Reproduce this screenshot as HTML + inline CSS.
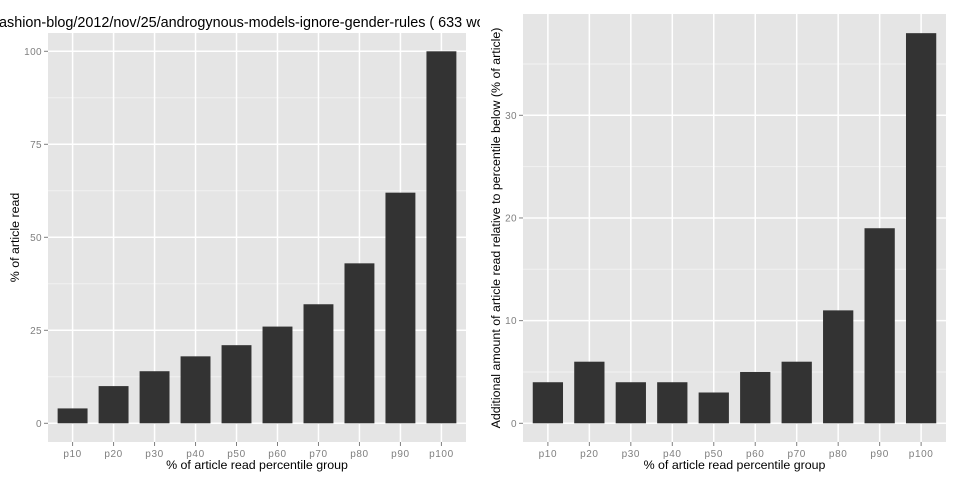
<!DOCTYPE html>
<html><head><meta charset="utf-8"><style>
html,body{margin:0;padding:0;background:#fff;}
svg{display:block;font-family:"Liberation Sans",sans-serif;}
</style></head><body>
<svg id="c" width="960" height="480">
<svg x="0" y="0" width="480" height="480">
<g id="L"></g>
<text x="-5" y="27" font-size="14.4" fill="#000">fashion-blog/2012/nov/25/androgynous-models-ignore-gender-rules ( 633 words)</text>
</svg>
<g id="R"></g>
</svg>
<script>
const categories = ["p10","p20","p30","p40","p50","p60","p70","p80","p90","p100"];
const leftValues = [4,10,14,18,21,26,32,43,62,100];
const rightValues = [4,6,4,4,3,5,6,11,19,38];
const leftTicks = [0,25,50,75,100];
const rightTicks = [0,10,20,30];

const NS="http://www.w3.org/2000/svg";
function mk(p,t,a){const e=document.createElementNS(NS,t);for(const k in a)e.setAttribute(k,a[k]);p.appendChild(e);return e;}

function panel(g,cfg){
  const {x0,x1,y0,y1,vmax,zeroY,vals,ticks,ytitle,ytx,pre}=cfg;
  const yS=v=>zeroY-v*(zeroY-cfg.topY)/vmax;
  const n=categories.length;
  const unit=(x1-x0)/(n-1+1.2);
  const xS=i=>x0+unit*(i+0.6);
  const bg=mk(g,'rect',{x:x0,y:y0,width:x1-x0,height:y1-y0,fill:'#e5e5e5'});
  
  const step=ticks[1]-ticks[0];
  for(let i=0;i<ticks.length;i++){
    const my=yS(ticks[i]+step/2);
    if(my>y0&&my<y1){const l=mk(g,'line',{x1:x0,x2:x1,y1:my,y2:my,stroke:'#f2f2f2','stroke-width':1});
      }
  }
  ticks.forEach(t=>{
    const y=yS(t);
    const l=mk(g,'line',{x1:x0,x2:x1,y1:y,y2:y,stroke:'#fff','stroke-width':1.5});
    
    const tk=mk(g,'line',{x1:x0-4,x2:x0,y1:y,y2:y,stroke:'#7f7f7f','stroke-width':1});
    
    const tx=mk(g,'text',{x:x0-6,y:y+3.5,'font-size':10,fill:'#7f7f7f','text-anchor':'end','letter-spacing':0.4});
    tx.textContent=t;
    
  });
  categories.forEach((c,i)=>{
    const x=xS(i);
    const l=mk(g,'line',{x1:x,x2:x,y1:y0,y2:y1,stroke:'#fff','stroke-width':1.5});
    
    const tk=mk(g,'line',{x1:x,x2:x,y1:y1,y2:y1+4,stroke:'#7f7f7f','stroke-width':1});
    
    const tx=mk(g,'text',{x:x,y:y1+15,'font-size':10,fill:'#7f7f7f','text-anchor':'middle','letter-spacing':0.6});
    tx.textContent=c;
    
  });
  vals.forEach((v,i)=>{
    const bw=unit*0.73;
    const r=mk(g,'rect',{x:xS(i)-bw/2,y:yS(v),width:bw,height:zeroY-yS(v),fill:'#333333'});
    
  });
  const xt=mk(g,'text',{x:(x0+x1)/2,y:469,'font-size':12.4,fill:'#000','text-anchor':'middle'});
  xt.textContent='% of article read percentile group';
  
  const cy=(y0+y1)/2;
  const yt=mk(g,'text',{x:ytx,y:cy,'font-size':12.4,fill:'#000','text-anchor':'middle',transform:`rotate(-90 ${ytx} ${cy})`});
  yt.textContent=ytitle;
  
}
panel(document.getElementById('L'),{x0:48,x1:466,y0:33,y1:442,zeroY:423.3,topY:51.3,vmax:100,vals:leftValues,ticks:leftTicks,ytitle:'% of article read',ytx:19,pre:'left-'});
panel(document.getElementById('R'),{x0:523,x1:946,y0:14,y1:442,zeroY:423.3,topY:115.3,vmax:30,vals:rightValues,ticks:rightTicks,ytitle:'Additional amount of article read relative to percentile below (% of article)',ytx:500,pre:'right-'});
</script>
</body></html>
